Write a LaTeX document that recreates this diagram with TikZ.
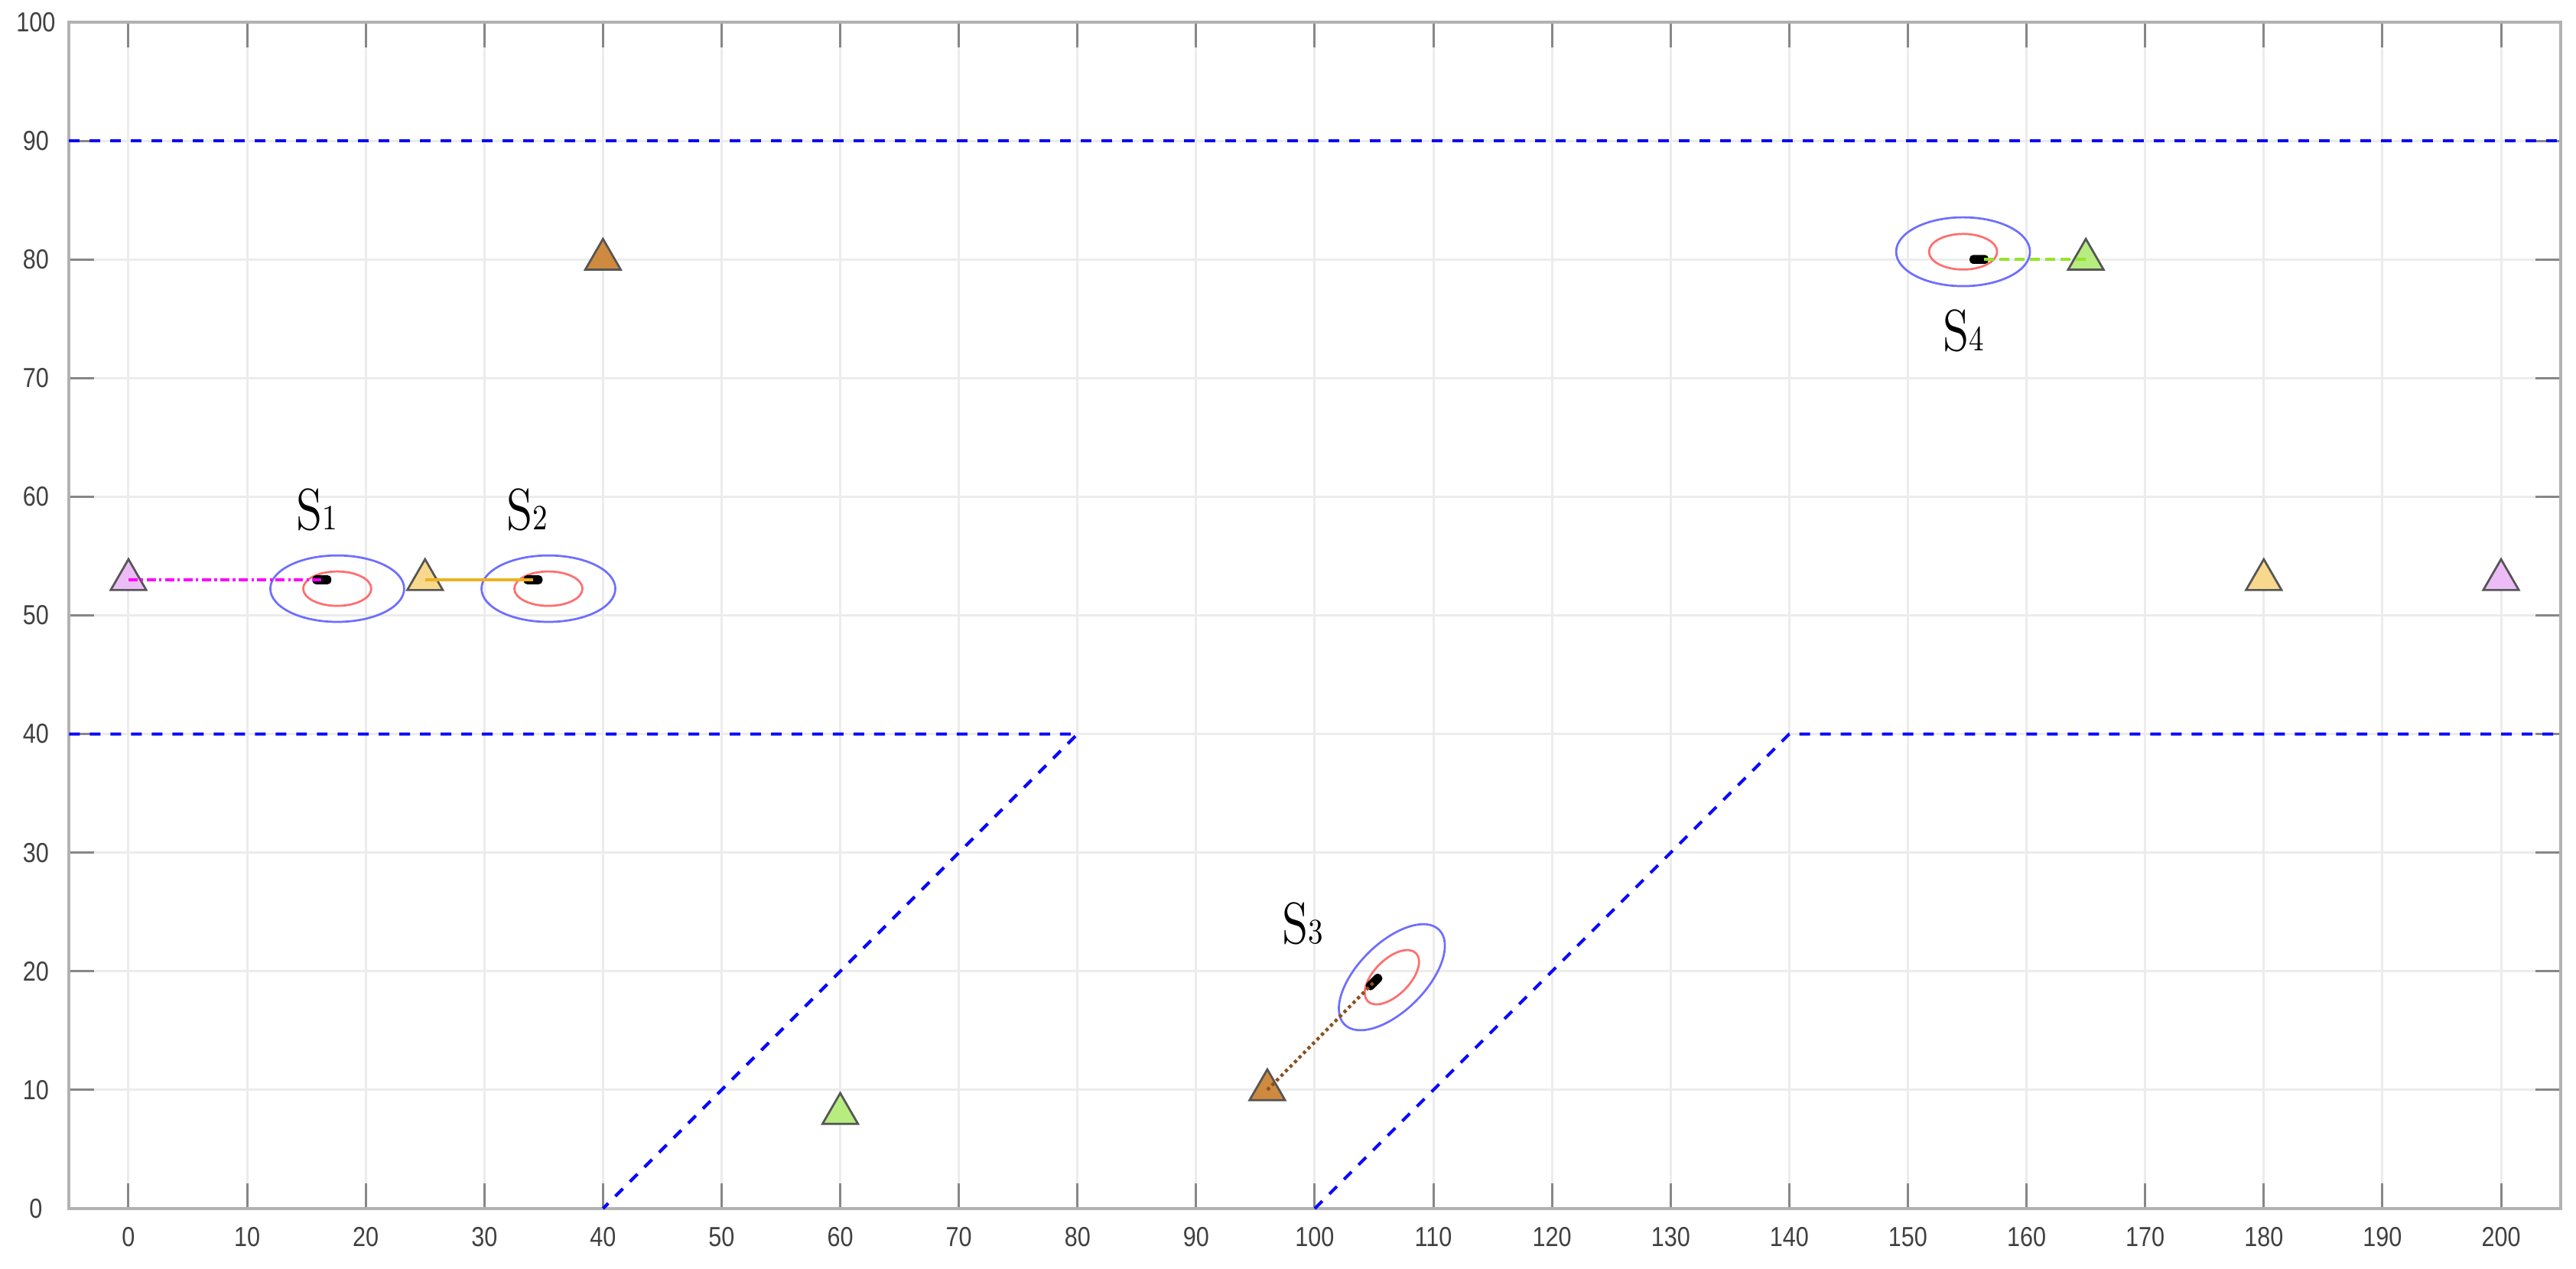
\documentclass[tikz,border=0pt]{standalone}
\usepackage{fontspec}
\newfontfamily\ticksans{Liberation Sans}
\usetikzlibrary{shapes.geometric}
\definecolor{gridc}{RGB}{236,236,236}
\definecolor{axisc}{RGB}{178,178,178}
\definecolor{tickc}{RGB}{135,135,135}
\definecolor{labc}{RGB}{64,64,64}
\definecolor{bndc}{RGB}{10,10,250}
\definecolor{ellb}{RGB}{110,110,255}
\definecolor{ellr}{RGB}{255,110,110}
\definecolor{fyel}{RGB}{248,216,140}
\definecolor{fpink}{RGB}{236,188,246}
\definecolor{fgreen}{RGB}{182,236,128}
\definecolor{fbrown}{RGB}{206,138,62}
\definecolor{lyel}{RGB}{237,177,32}
\definecolor{lmag}{RGB}{255,0,255}
\definecolor{lgreen}{RGB}{150,228,40}
\definecolor{lbrown}{RGB}{140,82,30}
\newcommand\Slab[1]{S{\fontsize{8.5}{8.5}\selectfont #1}}
\begin{document}
\begin{tikzpicture}[x=1mm,y=1mm,
  gridline/.style={gridc,line width=0.55pt},
  ticklab/.style={font=\ticksans\fontsize{6.6}{7}\selectfont,text=labc,inner sep=0pt,xscale=0.85,transform shape},
  slab/.style={font=\fontsize{14}{14}\selectfont,inner sep=0pt,xscale=0.82,transform shape},
  bnd/.style={bndc,line width=0.75pt,dash pattern=on 0.9mm off 0.84mm},
  tri/.style={regular polygon,regular polygon sides=3,minimum size=3.46mm,inner sep=0pt,draw={rgb,255:red,85;green,85;blue,85},line width=0.5pt},
  uav/.style={fill=black,rectangle,rounded corners=0.3mm,minimum width=1.6mm,minimum height=0.75mm,inner sep=0pt},
  ellbig/.style={ellb,line width=0.5pt},
  ellsm/.style={ellr,line width=0.5pt}]
\useasboundingbox (-10.83,-5.09) rectangle (206.32,101.87);
% grid
\foreach \x in {0,10,...,200} \draw[gridline] (\x,0) -- (\x,100);
\foreach \y in {10,20,...,90} \draw[gridline] (-5,\y) -- (205,\y);
% ticks
\foreach \x in {0,10,...,200} {
  \draw[tickc,line width=0.55pt] (\x,0) -- (\x,2.1);
  \draw[tickc,line width=0.55pt] (\x,100) -- (\x,97.9);
  \node[ticklab] (xl\x) at (\x,-2.42) {\x};
}
\foreach \y in {0,10,...,100} {
  \draw[tickc,line width=0.55pt] (-5,\y) -- (-2.9,\y);
  \draw[tickc,line width=0.55pt] (205,\y) -- (202.9,\y);
  \node[ticklab] (yl\y) at (-7.8,\y) {\y};
}
\draw[axisc,line width=0.75pt] (-5,0) rectangle (205,100);
% boundaries
\draw[bnd] (-5,90) -- (205,90);
\draw[bnd] (-5,40) -- (80,40) -- (40,0);
\draw[bnd] (100,0) -- (140,40) -- (205,40);
% triangles
\node[tri,fill=fpink] (t1) at (0,53) {};
\node[tri,fill=fyel] (t2) at (25,53) {};
\node[tri,fill=fbrown] (t3) at (40,80) {};
\node[tri,fill=fgreen] (t4) at (60,8) {};
\node[tri,fill=fbrown] (t5) at (96,10) {};
\node[tri,fill=fgreen] (t6) at (165,80) {};
\node[tri,fill=fyel] (t7) at (180,53) {};
\node[tri,fill=fpink] (t8) at (200,53) {};
% ellipses
\draw[ellbig] (17.6,52.25) ellipse [x radius=5.64, y radius=2.8];
\draw[ellsm] (17.6,52.25) ellipse [x radius=2.87, y radius=1.45];
\draw[ellbig] (35.4,52.25) ellipse [x radius=5.64, y radius=2.8];
\draw[ellsm] (35.4,52.25) ellipse [x radius=2.87, y radius=1.45];
\draw[ellbig] (154.65,80.65) ellipse [x radius=5.64, y radius=2.9];
\draw[ellsm] (154.65,80.65) ellipse [x radius=2.87, y radius=1.5];
\draw[ellbig,rotate around={45:(106.5,19.5)}] (106.5,19.5) ellipse [x radius=5.64, y radius=2.85];
\draw[ellsm,rotate around={45:(106.5,19.5)}] (106.5,19.5) ellipse [x radius=2.87, y radius=1.5];
% sensors
\node[uav] (s1) at (16.3,53) {};
\node[uav] (s2) at (34.1,53) {};
\node[uav,rotate=45] (s3) at (105,19.1) {};
\node[uav] (s4) at (156,80) {};
% links
\draw[lmag,line width=0.75pt,dash pattern=on 0.75mm off 0.3mm on 0.2mm off 0.3mm] (t1.center) -- (s1.center);
\draw[lyel,line width=0.75pt] (t2.center) -- (s2.center);
\draw[lbrown,line width=0.8pt,dash pattern=on 0.27mm off 0.27mm] (t5.center) -- (s3.center);
\draw[lgreen,line width=0.75pt,dash pattern=on 0.86mm off 0.43mm] (t6.center) -- (s4.center);
% labels
\node[slab] (l1) at (15.9,58.9) {\Slab{1}};
\node[slab] (l2) at (33.6,58.9) {\Slab{2}};
\node[slab] (l3) at (99.0,24.0) {\Slab{3}};
\node[slab] (l4) at (154.7,74.0) {\Slab{4}};
\end{tikzpicture}
\end{document}
